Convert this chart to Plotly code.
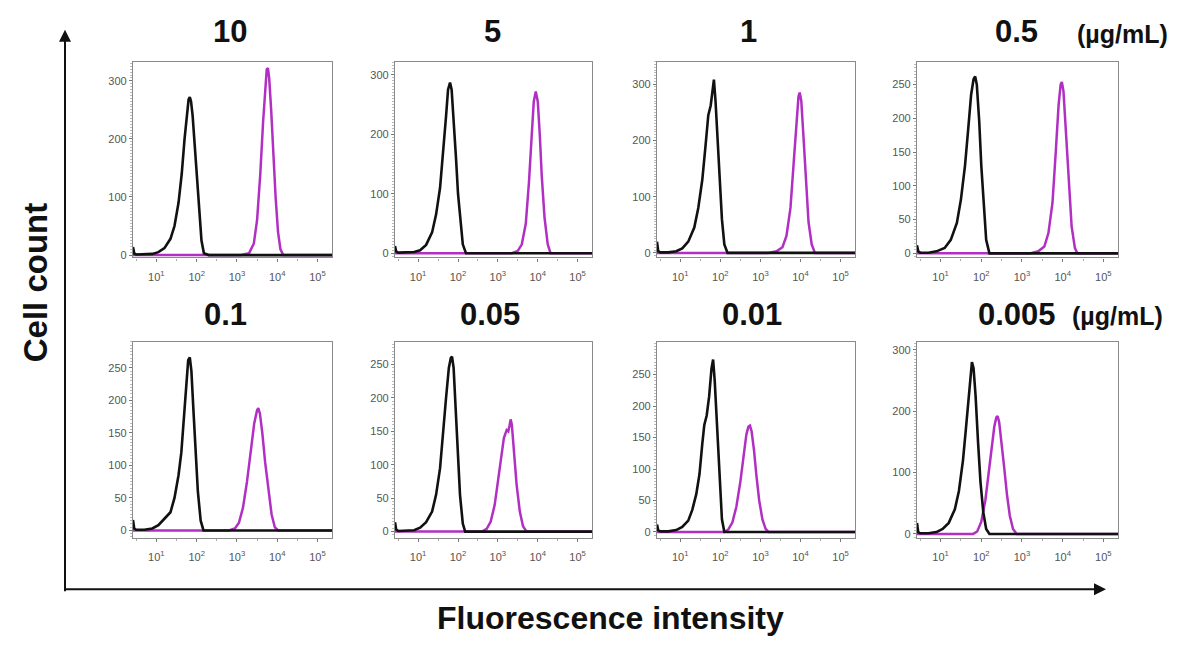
import plotly.graph_objects as go

# ---------------- data (x in log10 fluorescence units, y = cell count) ----------------
concentrations = ["10", "5", "1", "0.5", "0.1", "0.05", "0.01", "0.005"]
unit_label = "(µg/mL)"
x_tick_vals = [1, 2, 3, 4, 5]
x_tick_text = ["10<sup>1</sup>", "10<sup>2</sup>", "10<sup>3</sup>", "10<sup>4</sup>", "10<sup>5</sup>"]

c10_ctrl_x = [0.42, 0.45, 0.5, 0.7, 0.9, 1.05, 1.2, 1.35, 1.45, 1.55, 1.63, 1.7, 1.76, 1.8, 1.83, 1.86, 1.9, 1.95, 2.0, 2.06, 2.12, 2.18, 2.3, 5.36]
c10_ctrl_y = [14, 3, 1, 1, 2, 5, 12, 28, 50, 90, 140, 200, 250, 268, 272, 265, 240, 190, 130, 70, 25, 3, 0, 0]
c10_stain_x = [0.42, 3.1, 3.3, 3.42, 3.5, 3.58, 3.65, 3.7, 3.74, 3.77, 3.8, 3.85, 3.9, 3.96, 4.02, 4.08, 4.15, 5.36]
c10_stain_y = [0, 0, 3, 20, 60, 140, 230, 290, 320, 322, 305, 250, 180, 100, 40, 10, 0, 0]

c5_ctrl_x = [0.42, 0.45, 0.5, 0.7, 0.9, 1.05, 1.2, 1.35, 1.45, 1.55, 1.63, 1.7, 1.75, 1.8, 1.84, 1.9, 1.95, 2.0, 2.06, 2.12, 2.2, 5.36]
c5_ctrl_y = [12, 3, 1, 1, 2, 5, 14, 35, 65, 110, 170, 230, 275, 287, 275, 220, 160, 100, 50, 15, 0, 0]
c5_stain_x = [0.42, 3.35, 3.5, 3.6, 3.7, 3.78, 3.85, 3.9, 3.95, 4.0, 4.05, 4.1, 4.17, 4.25, 4.32, 5.36]
c5_stain_y = [0, 0, 4, 15, 50, 120, 200, 255, 272, 255, 200, 130, 60, 15, 0, 0]

c1_ctrl_x = [0.42, 0.45, 0.5, 0.7, 0.9, 1.05, 1.2, 1.35, 1.45, 1.55, 1.63, 1.7, 1.76, 1.8, 1.84, 1.88, 1.93, 1.98, 2.04, 2.1, 2.18, 5.36]
c1_ctrl_y = [20, 3, 1, 1, 3, 8, 20, 45, 80, 130, 190, 245, 262, 290, 308, 270, 200, 130, 60, 15, 0, 0]
c1_stain_x = [0.42, 3.2, 3.4, 3.55, 3.65, 3.75, 3.83, 3.9, 3.95, 3.98, 4.02, 4.08, 4.14, 4.2, 4.28, 4.36, 5.36]
c1_stain_y = [0, 0, 3, 10, 30, 80, 160, 240, 278, 285, 270, 200, 120, 55, 15, 0, 0]

c05_ctrl_x = [0.42, 0.45, 0.5, 0.7, 0.9, 1.1, 1.25, 1.4, 1.5, 1.6, 1.68, 1.75, 1.81, 1.85, 1.89, 1.95, 2.0, 2.06, 2.12, 2.2, 5.36]
c05_ctrl_y = [12, 3, 1, 1, 3, 8, 20, 45, 80, 130, 185, 235, 258, 262, 250, 195, 130, 65, 20, 0, 0]
c05_stain_x = [0.42, 3.2, 3.4, 3.55, 3.65, 3.75, 3.83, 3.9, 3.95, 3.98, 4.02, 4.08, 4.15, 4.22, 4.3, 4.36, 5.36]
c05_stain_y = [0, 0, 3, 10, 30, 75, 150, 220, 250, 254, 240, 180, 100, 40, 8, 0, 0]

c01_ctrl_x = [0.42, 0.45, 0.5, 0.7, 0.9, 1.05, 1.2, 1.35, 1.45, 1.55, 1.62, 1.68, 1.74, 1.79, 1.83, 1.87, 1.92, 1.97, 2.03, 2.1, 2.17, 5.36]
c01_ctrl_y = [16, 3, 1, 1, 3, 8, 18, 28, 50, 85, 120, 170, 230, 262, 266, 245, 185, 120, 60, 15, 0, 0]
c01_stain_x = [0.42, 2.8, 2.95, 3.05, 3.15, 3.25, 3.35, 3.43, 3.5, 3.53, 3.57, 3.63, 3.7, 3.78, 3.86, 3.94, 4.02, 5.36]
c01_stain_y = [0, 0, 3, 12, 35, 75, 125, 165, 185, 188, 180, 150, 105, 60, 25, 5, 0, 0]

c005_ctrl_x = [0.42, 0.45, 0.5, 0.7, 0.9, 1.05, 1.2, 1.35, 1.45, 1.55, 1.63, 1.7, 1.77, 1.82, 1.85, 1.89, 1.94, 1.99, 2.05, 2.12, 2.18, 5.36]
c005_ctrl_y = [14, 3, 1, 1, 2, 6, 14, 30, 55, 95, 145, 200, 245, 260, 262, 245, 185, 120, 55, 12, 0, 0]
c005_stain_x = [0.42, 2.6, 2.72, 2.82, 2.92, 3.0, 3.08, 3.15, 3.22, 3.26, 3.29, 3.32, 3.35, 3.4, 3.47, 3.55, 3.63, 3.72, 5.36]
c005_stain_y = [0, 0, 4, 15, 40, 75, 110, 140, 152, 150, 158, 168, 160, 120, 70, 30, 8, 0, 0]

c001_ctrl_x = [0.42, 0.45, 0.5, 0.7, 0.9, 1.05, 1.2, 1.3, 1.4, 1.48, 1.55, 1.6, 1.66, 1.72, 1.78, 1.82, 1.86, 1.92, 1.98, 2.04, 2.1, 5.36]
c001_ctrl_y = [12, 3, 1, 1, 3, 8, 18, 35, 60, 92, 140, 170, 185, 215, 260, 274, 240, 160, 80, 20, 0, 0]
c001_stain_x = [0.42, 2.1, 2.2, 2.3, 2.4, 2.5, 2.58, 2.65, 2.7, 2.74, 2.78, 2.84, 2.9, 2.97, 3.05, 3.13, 3.2, 5.36]
c001_stain_y = [0, 0, 4, 15, 40, 80, 120, 155, 167, 169, 160, 130, 90, 50, 20, 5, 0, 0]

c0005_ctrl_x = [0.42, 0.45, 0.5, 0.7, 0.9, 1.05, 1.2, 1.35, 1.45, 1.55, 1.62, 1.68, 1.73, 1.77, 1.81, 1.86, 1.92, 1.98, 2.05, 2.12, 2.2, 5.36]
c0005_ctrl_y = [18, 3, 1, 1, 3, 8, 18, 40, 70, 120, 170, 220, 262, 280, 270, 225, 150, 85, 35, 8, 0, 0]
c0005_stain_x = [0.42, 1.8, 1.9, 2.0, 2.1, 2.18, 2.26, 2.32, 2.37, 2.4, 2.44, 2.5, 2.56, 2.63, 2.7, 2.78, 2.87, 5.36]
c0005_stain_y = [0, 0, 4, 20, 55, 100, 145, 175, 190, 192, 182, 150, 110, 65, 30, 8, 0, 0]

ctrl_x = [c10_ctrl_x, c5_ctrl_x, c1_ctrl_x, c05_ctrl_x, c01_ctrl_x, c005_ctrl_x, c001_ctrl_x, c0005_ctrl_x]
ctrl_y = [c10_ctrl_y, c5_ctrl_y, c1_ctrl_y, c05_ctrl_y, c01_ctrl_y, c005_ctrl_y, c001_ctrl_y, c0005_ctrl_y]
stain_x = [c10_stain_x, c5_stain_x, c1_stain_x, c05_stain_x, c01_stain_x, c005_stain_x, c001_stain_x, c0005_stain_x]
stain_y = [c10_stain_y, c5_stain_y, c1_stain_y, c05_stain_y, c01_stain_y, c005_stain_y, c001_stain_y, c0005_stain_y]

y_tick_sets = [
    [0, 100, 200, 300], [0, 100, 200, 300], [0, 100, 200, 300], [0, 50, 100, 150, 200, 250],
    [0, 50, 100, 150, 200, 250], [0, 50, 100, 150, 200, 250], [0, 50, 100, 150, 200, 250], [0, 100, 200, 300],
]

# ---------------- layout geometry ----------------
# The page body has an 8px margin, so the figure is 16px smaller than the window
OFF = 8
W, H = 1178 - 2 * OFF, 646 - 2 * OFF


def px_x(px):
    return (px - OFF) / W


def px_y(py):
    return 1 - (py - OFF) / H


y_ranges = [[-4, 333], [-7, 322], [-8, 340], [-6, 284], [-11, 290], [-9, 284], [-9, 302], [-6, 313]]
col_px = [(133, 332), (395, 592), (657, 855), (917, 1118)]
row_px = [(62, 259), (344, 541)]

FONT = "Liberation Sans, Arial, Helvetica, sans-serif"
BLACK = "#111111"
MAGENTA = "#b12fc2"

fig = go.Figure()
layout = dict(
    width=W, height=H, margin=dict(l=0, r=0, t=0, b=0),
    paper_bgcolor="white", plot_bgcolor="white", showlegend=False,
    font=dict(family=FONT, color="#222"),
)

annotations = []
for i in range(8):
    r, c = divmod(i, 4)
    xa = "x" if i == 0 else f"x{i+1}"
    ya = "y" if i == 0 else f"y{i+1}"
    fig.add_trace(go.Scatter(x=stain_x[i], y=stain_y[i], mode="lines",
                             line=dict(color=MAGENTA, width=2.5), xaxis=xa, yaxis=ya,
                             hoverinfo="skip"))
    fig.add_trace(go.Scatter(x=ctrl_x[i], y=ctrl_y[i], mode="lines",
                             line=dict(color=BLACK, width=2.6), xaxis=xa, yaxis=ya,
                             hoverinfo="skip"))
    x0, x1 = col_px[c]
    y0, y1 = row_px[r]
    xkey = "xaxis" if i == 0 else f"xaxis{i+1}"
    ykey = "yaxis" if i == 0 else f"yaxis{i+1}"
    layout[xkey] = dict(
        domain=[px_x(x0), px_x(x1)], range=[0.42, 5.36], anchor=ya,
        tickvals=x_tick_vals, ticktext=x_tick_text, ticks="outside", ticklen=3,
        tickcolor="#777", tickfont=dict(size=11, color="#555"), ticklabelstandoff=6,
        showline=True, linecolor="#8a8a8a", linewidth=1.2, mirror=True,
        showgrid=False, zeroline=False,
        minor=dict(ticks="outside", ticklen=2, tickcolor="#aaa", dtick=0.5),
    )
    layout[ykey] = dict(
        domain=[px_y(y1), px_y(y0)], range=y_ranges[i], anchor=xa,
        tickvals=y_tick_sets[i], ticks="outside", ticklen=3, tickcolor="#777",
        tickfont=dict(size=11, color="#555"),
        showline=True, linecolor="#8a8a8a", linewidth=1.2, mirror=True,
        showgrid=False, zeroline=False,
        minor=dict(ticks="outside", ticklen=2, tickcolor="#bbb", nticks=20),
    )

# panel titles
title_pos = [(230, 32), (492, 32), (748, 32), (1017, 32),
             (225, 316), (490, 316), (752, 316), (1017, 316)]
for i, (tx, ty) in enumerate(title_pos):
    annotations.append(dict(text=f"<b>{concentrations[i]}</b>", x=px_x(tx), y=px_y(ty),
                            xref="paper", yref="paper", showarrow=False,
                            font=dict(size=31, color="#111", family=FONT),
                            xanchor="center", yanchor="middle"))
for ux, uy in [(1122, 34), (1117, 318)]:
    annotations.append(dict(text=f"<b>{unit_label}</b>", x=px_x(ux), y=px_y(uy),
                            xref="paper", yref="paper", showarrow=False,
                            font=dict(size=25, color="#111", family=FONT),
                            xanchor="center", yanchor="middle"))

# axis titles
annotations.append(dict(text="<b>Cell count</b>", x=px_x(35), y=px_y(284), xref="paper", yref="paper",
                        showarrow=False, textangle=-90, font=dict(size=33, color="#111", family=FONT),
                        xanchor="center", yanchor="middle"))
annotations.append(dict(text="<b>Fluorescence intensity</b>", x=px_x(610), y=px_y(622), xref="paper",
                        yref="paper", showarrow=False, font=dict(size=32, color="#111", family=FONT),
                        xanchor="center", yanchor="middle"))

# big arrows
annotations.append(dict(text="", x=px_x(65), y=px_y(30), xref="paper", yref="paper",
                        showarrow=True, ax=0, ay=563, arrowhead=2, arrowsize=1.2,
                        arrowwidth=2, arrowcolor="#111"))
annotations.append(dict(text="", x=px_x(1106), y=px_y(593), xref="paper", yref="paper",
                        showarrow=True, ax=-1042, ay=0, arrowhead=2, arrowsize=1.2,
                        arrowwidth=2, arrowcolor="#111"))

layout["annotations"] = annotations
fig.update_layout(**layout)
fig.write_html("out.html")
